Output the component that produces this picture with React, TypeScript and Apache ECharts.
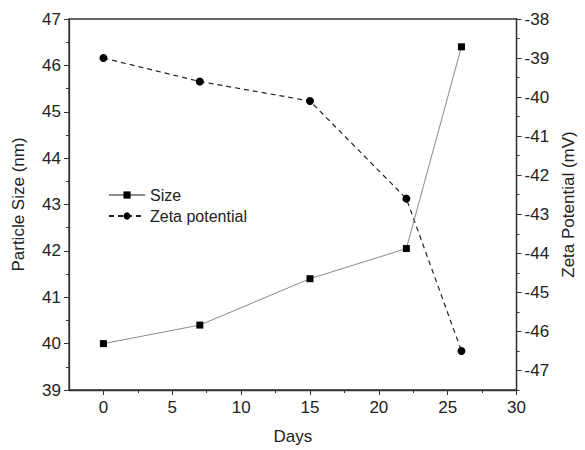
import React, { useEffect, useRef } from "react";
import * as echarts from "echarts";

const days = [0, 7, 15, 22, 26];
const sizeValues = [40.0, 40.4, 41.4, 42.05, 46.4];
const zetaValues = [-39.0, -39.6, -40.1, -42.6, -46.5];
const xMajorTicks = [0, 5, 10, 15, 20, 25, 30];
const xMinorTicks = [2.5, 7.5, 12.5, 17.5, 22.5, 27.5];
const rightMajorTicks = [-47, -46, -45, -44, -43, -42, -41, -40, -39, -38];
const rightMinorTicks = [-47.5, -46.5, -45.5, -44.5, -43.5, -42.5, -41.5, -40.5, -39.5, -38.5];

const FONT = "'Liberation Sans', Arial, sans-serif";
const TXT = "#222";

export default function App() {
  const ref = useRef<HTMLDivElement>(null);
  useEffect(() => {
    const chart = echarts.init(ref.current!, undefined, { renderer: "svg" });
    const axisLine = { show: true, onZero: false, lineStyle: { color: "#333", width: 1.3 } };
    chart.setOption({
      animation: false,
      textStyle: { fontFamily: FONT },
      grid: {
        left: 69, right: 61, top: 19, bottom: 58,
        show: true, borderColor: "#333", borderWidth: 1.3, backgroundColor: "transparent",
      },
      legend: {
        left: 103, top: 182, orient: "vertical", itemWidth: 36, itemHeight: 9, itemGap: 5,
        textStyle: { fontSize: 16, color: TXT, fontFamily: FONT },
        data: ["Size", "Zeta potential"],
      },
      xAxis: [
        {
          type: "value", min: -2.5, max: 30, position: "bottom",
          name: "Days", nameLocation: "middle", nameGap: 38,
          nameTextStyle: { fontSize: 17, color: TXT, fontFamily: FONT },
          axisLine,
          axisTick: { show: true, length: 5, customValues: xMajorTicks, lineStyle: { color: "#333" } },
          axisLabel: { customValues: xMajorTicks, fontSize: 17, color: TXT, margin: 9, fontFamily: FONT },
          splitLine: { show: false },
        },
        {
          type: "value", min: -2.5, max: 30, position: "bottom",
          axisLine: { show: false, onZero: false },
          axisTick: { show: true, length: 3, customValues: xMinorTicks, lineStyle: { color: "#333" } },
          axisLabel: { show: false },
          splitLine: { show: false },
        },
      ],
      yAxis: [
        {
          type: "value", min: 39, max: 47, interval: 1, position: "left",
          name: "Particle Size (nm)", nameLocation: "middle", nameGap: 42, nameRotate: 90,
          nameTextStyle: { fontSize: 17, color: TXT, fontFamily: FONT },
          axisLine,
          axisTick: { show: true, length: 5, lineStyle: { color: "#333" } },
          minorTick: { show: true, splitNumber: 2, length: 3, lineStyle: { color: "#333" } },
          axisLabel: { fontSize: 17, color: TXT, margin: 8, fontFamily: FONT },
          splitLine: { show: false },
        },
        {
          type: "value", min: -47.5, max: -38, position: "right",
          name: "Zeta Potential (mV)", nameLocation: "middle", nameGap: 42, nameRotate: 90,
          nameTextStyle: { fontSize: 17, color: TXT, fontFamily: FONT },
          axisLine,
          axisTick: { show: true, length: 5, customValues: rightMajorTicks, lineStyle: { color: "#333" } },
          axisLabel: { customValues: rightMajorTicks, fontSize: 17, color: TXT, margin: 8, fontFamily: FONT },
          splitLine: { show: false },
        },
        {
          type: "value", min: -47.5, max: -38, position: "right",
          axisLine: { show: false, onZero: false },
          axisTick: { show: true, length: 3, customValues: rightMinorTicks, lineStyle: { color: "#333" } },
          axisLabel: { show: false },
          splitLine: { show: false },
        },
      ],
      series: [
        {
          name: "Size", type: "line", xAxisIndex: 0, yAxisIndex: 0,
          data: days.map((d, i) => [d, sizeValues[i]]),
          symbol: "rect", symbolSize: 7,
          lineStyle: { color: "#8a8a8a", width: 1 },
          itemStyle: { color: "#000" },
          z: 3,
        },
        {
          name: "Zeta potential", type: "line", xAxisIndex: 0, yAxisIndex: 1,
          data: days.map((d, i) => [d, zetaValues[i]]),
          symbol: "circle", symbolSize: 8,
          lineStyle: { color: "#222", width: 1.2, type: [5, 4] },
          itemStyle: { color: "#000" },
          z: 2,
        },
      ],
    });
    return () => chart.dispose();
  }, []);
  return <div ref={ref} style={{ width: 585, height: 450, position: "absolute", left: 0, top: 0, background: "#fff" }} />;
}
